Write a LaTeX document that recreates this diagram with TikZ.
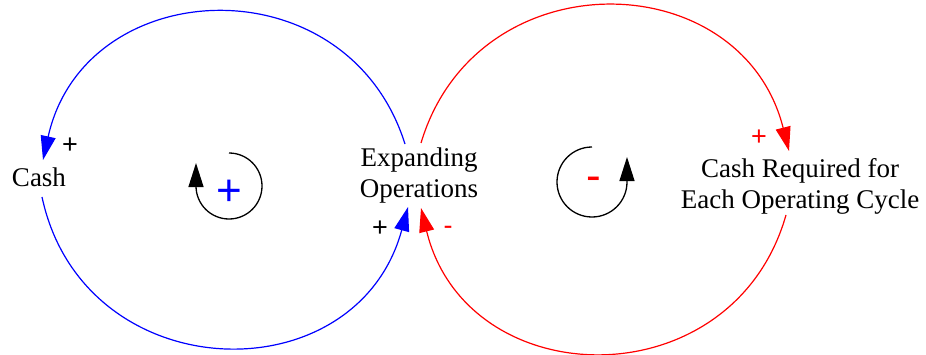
\documentclass[tikz,border=0pt]{standalone}
\usepackage{fontspec}
\setmainfont{Liberation Serif}
\newfontfamily\loopfont{Liberation Sans}
\usepackage{xcolor}
\usepackage{tikz}
\usetikzlibrary{arrows.meta}
\definecolor{lpblue}{HTML}{0000FF}
\definecolor{lpred}{HTML}{FF0000}
\tikzset{
  var/.style={align=center,inner sep=0pt,font=\fontsize{27}{31}\selectfont,text=black},
  pol/.style={inner sep=0pt,font=\loopfont\fontsize{27}{30}\selectfont},
  loopsign/.style={inner sep=0pt,font=\loopfont\fontsize{44}{44}\selectfont},
  link/.style={-{Triangle[length=24pt,width=15pt]},line width=1.2pt},
  loopline/.style={-{Triangle[length=24pt,width=15pt]},line width=1.3pt,draw=black},
}

\begin{document}
\begin{tikzpicture}[x=1pt,y=1pt]
  \useasboundingbox (0,0) rectangle (926,354);
  \node[var] (cash) at (39,177) {Cash};
  \node[var] (ops) at (419,178) {Expanding\\Operations};
  \node[var] (req) at (800,168) {Cash Required for\\Each Operating Cycle};
  \coordinate (opsTL) at (405,210);
  \coordinate (opsTR) at (421,211);
  \coordinate (opsBL) at (408,147);
  \coordinate (opsBR) at (421,146);
  \coordinate (cashT) at (43,194);
  \coordinate (cashB) at (42,157);
  \coordinate (reqT) at (789,203);
  \coordinate (reqB) at (786,139);
  \draw[link,lpblue] (opsTL) to[out=107.5,in=77.5,looseness=1.353] (cashT);
  \draw[link,lpblue] (cashB) to[out=282.1,in=254.8,looseness=1.378] (opsBL);
  \draw[link,lpred] (opsTR) to[out=73.3,in=104.2,looseness=1.345] (reqT);
  \draw[link,lpred] (reqB) to[out=254.1,in=283.7,looseness=1.356] (opsBR);
  \node[pol] (p1) at (70,208) {+};
  \node[pol] (p2) at (380,125) {+};
  \node[pol,lpred] (p3) at (448,124) {-};
  \node[pol,lpred] (p4) at (759,216) {+};
  \draw[loopline] (229,201) arc[start angle=90,end angle=-180,radius=33] -- ++(0,23);
  \node[loopsign,lpblue] (rloop) at (229,161) {+};
  \draw[loopline] (592,207) arc[start angle=90,end angle=360,radius=35] -- ++(0,25);
  \node[loopsign,lpred] (bloop) at (594,170) {-};
\end{tikzpicture}
\end{document}
